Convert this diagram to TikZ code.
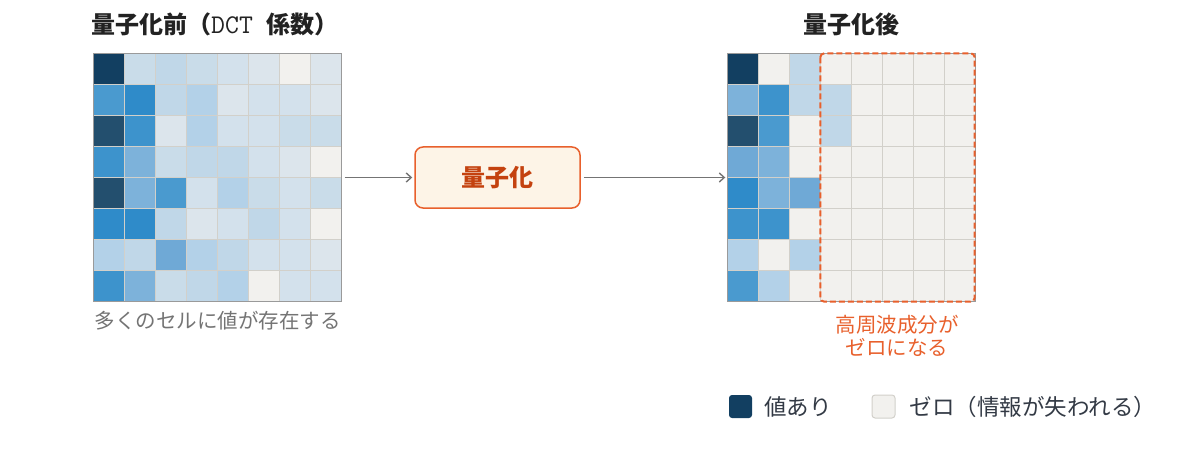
\documentclass[tikz,border=0pt]{standalone}
\usepackage{fontspec}
\setmainfont{Noto Sans CJK JP}
\usetikzlibrary{positioning, arrows.meta}

\definecolor{navy}{HTML}{123F61}
\definecolor{slate}{HTML}{234F6E}
\definecolor{blueA}{HTML}{2F8BC9}
\definecolor{blueB}{HTML}{3D93CC}
\definecolor{blueC}{HTML}{4A9ACF}
\definecolor{blueD}{HTML}{6FA9D6}
\definecolor{blueE}{HTML}{7DB2DA}
\definecolor{paleA}{HTML}{B3D1E8}
\definecolor{paleB}{HTML}{C0D7E8}
\definecolor{paleC}{HTML}{C9DCE9}
\definecolor{paleD}{HTML}{D3E1EC}
\definecolor{paleE}{HTML}{DCE5EC}
\definecolor{cream}{HTML}{F2F1EE}
\definecolor{gridline}{HTML}{D2D0CA}
\definecolor{framegray}{HTML}{9A9A9A}
\definecolor{accent}{HTML}{E8602C}
\definecolor{accentdark}{HTML}{C4420F}
\definecolor{boxfill}{HTML}{FDF4E7}
\definecolor{arrowgray}{HTML}{747474}
\definecolor{titlec}{HTML}{222222}
\definecolor{legendc}{HTML}{333A45}

\begin{document}
\begin{tikzpicture}[x=1pt, y=-1pt,
    gridbox/.style={minimum size=248pt, inner sep=0pt},
    cell/.style={draw=gridline, line width=0.8pt},
    frame/.style={draw=framegray, line width=1.4pt},
    title/.style={font=\bfseries\fontsize{24}{28}\selectfont, text=titlec, inner sep=0pt},
    note/.style={font=\fontsize{20.5}{23}\selectfont, inner sep=0pt, align=center},
    arrow/.style={-{Straight Barb[length=5pt, width=9pt]}, draw=arrowgray, line width=1.4pt},
    step box/.style={draw=accent, fill=boxfill, line width=1.5pt, rounded corners=8pt, minimum width=165pt, minimum height=61pt, text=accentdark, font=\bfseries\fontsize{24}{28}\selectfont},
    key/.style={minimum size=23pt, inner sep=0pt, rounded corners=3pt},
    keytext/.style={font=\fontsize{22.5}{26}\selectfont, text=legendc, inner sep=0pt, anchor=west}
]
\useasboundingbox (0,0) rectangle (1182,457);

% the two 8x8 coefficient blocks
\node[gridbox] (before) at (217.5,177.5) {};
\node[gridbox] (after) at (851.5,177.5) {};

\begin{scope}[shift={(before.north west)}]
\foreach \cols [count=\r from 0] in {
    {navy,paleC,paleB,paleC,paleD,paleE,cream,paleE},
    {blueC,blueA,paleB,paleA,paleE,paleD,paleD,paleE},
    {slate,blueB,paleE,paleA,paleD,paleD,paleC,paleC},
    {blueB,blueE,paleC,paleB,paleB,paleD,paleE,cream},
    {slate,blueE,blueC,paleD,paleA,paleC,paleD,paleC},
    {blueA,blueA,paleB,paleE,paleD,paleB,paleD,cream},
    {paleA,paleB,blueD,paleA,paleB,paleD,paleD,paleE},
    {blueB,blueE,paleC,paleB,paleA,cream,paleD,paleD}}
  \foreach \c [count=\i from 0] in \cols
    \draw[cell, fill=\c] (\i*31,\r*31) rectangle +(31,31);
\end{scope}

\begin{scope}[shift={(after.north west)}]
\foreach \cols [count=\r from 0] in {
    {navy,cream,paleB,cream,cream,cream,cream,cream},
    {blueE,blueB,paleB,paleB,cream,cream,cream,cream},
    {slate,blueC,cream,paleB,cream,cream,cream,cream},
    {blueD,blueE,cream,cream,cream,cream,cream,cream},
    {blueA,blueE,blueD,cream,cream,cream,cream,cream},
    {blueB,blueB,cream,cream,cream,cream,cream,cream},
    {paleA,cream,paleA,cream,cream,cream,cream,cream},
    {blueC,paleA,cream,cream,cream,cream,cream,cream}}
  \foreach \c [count=\i from 0] in \cols
    \draw[cell, fill=\c] (\i*31,\r*31) rectangle +(31,31);
\end{scope}

\draw[frame] (before.north west) rectangle (before.south east);
\draw[frame] (after.north west) rectangle (after.south east);

% high-frequency region
\coordinate (hf) at ([xshift=93pt]after.north west);
\draw[accent, line width=2pt, dash pattern=on 6pt off 3pt, rounded corners=4pt]
    (hf) rectangle ([xshift=-1pt]after.south east);

% titles and captions
\node[title, anchor=west] (t1) at (91,24) {量子化前（{\ttfamily\mdseries\fontsize{27}{28}\selectfont DCT\ }係数）};
\node[title] (t2) at (851.5,24) {量子化後};
\node[note, text=arrowgray, below=9pt of before] (cap1) {多くのセルに値が存在する};
\node[note, text=accent] (cap2) at (897,336) {高周波成分が\\ゼロになる};

% quantization step
\node[step box] (quant) at (497.5,177.5) {量子化};
\draw[arrow] ([xshift=3pt]before.east) -- ([xshift=-2pt]quant.west);
\draw[arrow] ([xshift=3pt]quant.east) -- ([xshift=-2pt]after.west);

% legend
\node[key, fill=navy] (k1) at (740.5,406.5) {};
\node[keytext, right=12pt of k1] (l1) {値あり};
\node[key, fill=cream, draw=gridline, line width=1pt] (k2) at (883.5,406.5) {};
\node[keytext, right=14pt of k2] (l2) {ゼロ（情報が失われる）};
\end{tikzpicture}
\end{document}
